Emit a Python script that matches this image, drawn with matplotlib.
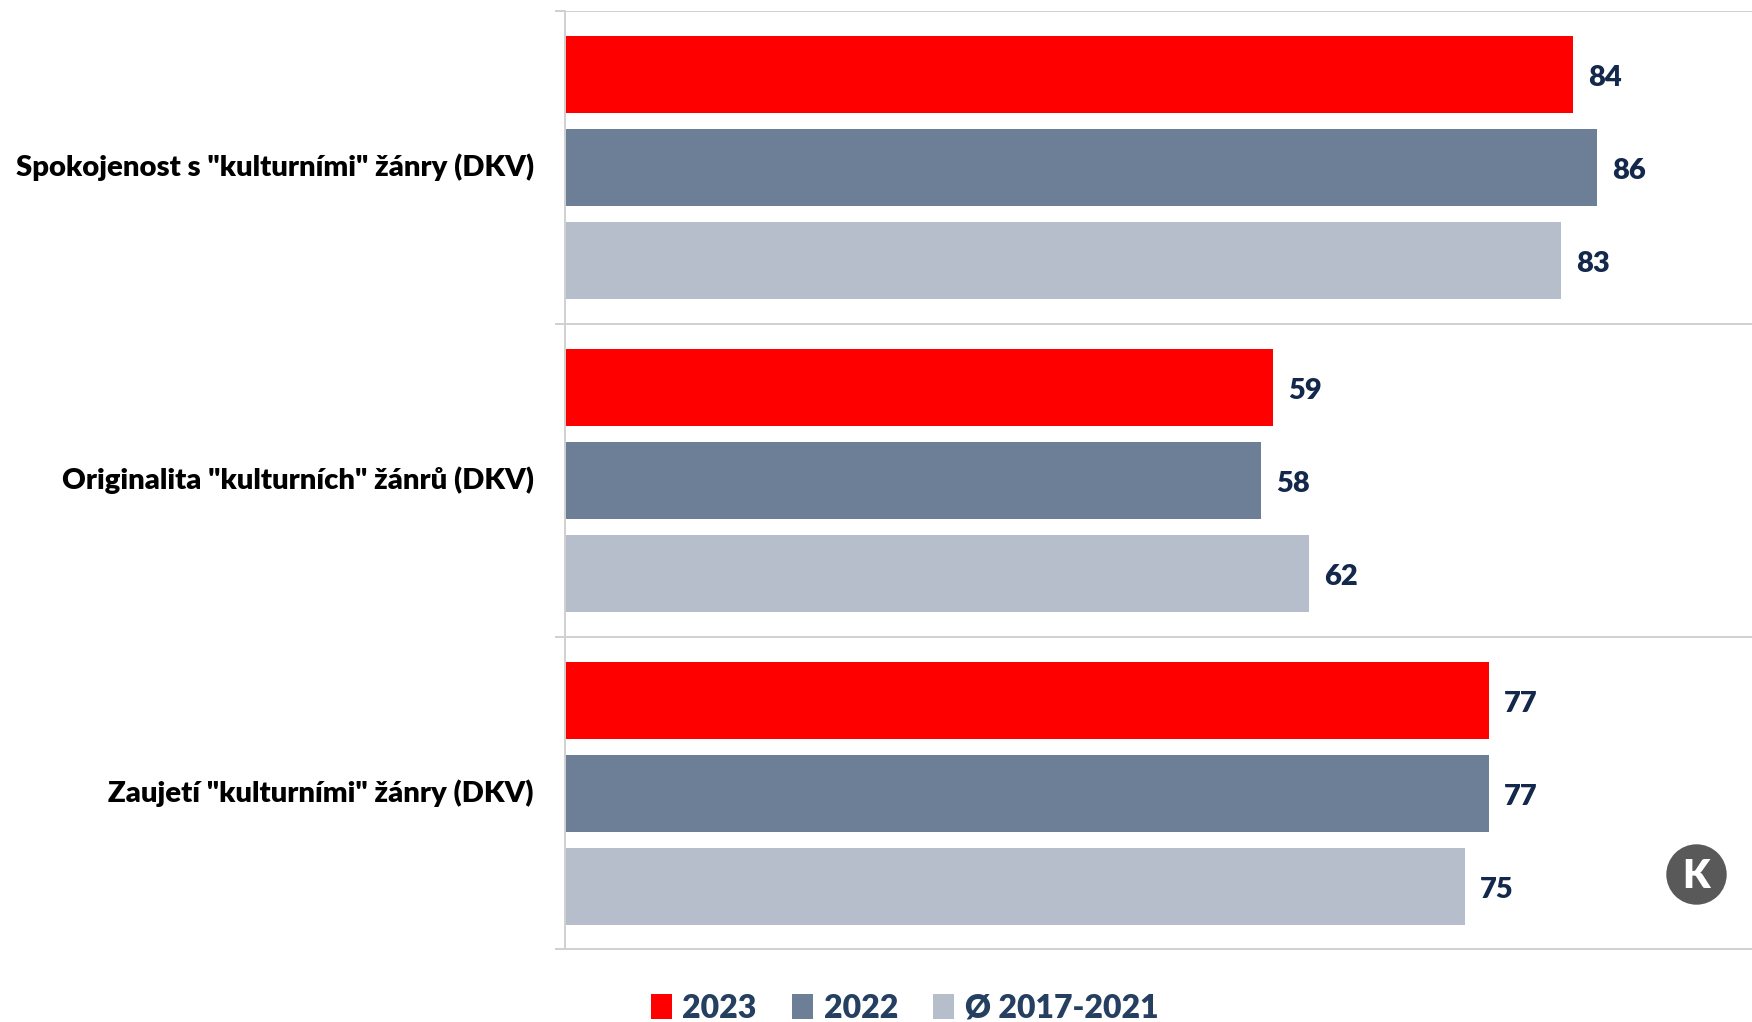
import numpy as np
import matplotlib
matplotlib.use('Agg')
import matplotlib.pyplot as plt
from matplotlib.transforms import ScaledTranslation

categories = ['Spokojenost s "kulturními" žánry (DKV)',
              'Originalita "kulturních" žánrů (DKV)',
              'Zaujetí "kulturními" žánry (DKV)']
v2023 = [84, 59, 77]
v2022 = [86, 58, 77]
avg = [83, 62, 75]
series_names = ['2023', '2022', 'Ø 2017-2021']
colors = ['#FF0000', '#6D7F97', '#B6BECB']

plt.rcParams['font.family'] = ['Lato', 'DejaVu Sans']
plt.rcParams['font.weight'] = 800

W, H = 1752, 1022
fig = plt.figure(figsize=(W/100, H/100), dpi=100)
ax = fig.add_axes([565/W, 1-949.5/H, (W-565)/W, 938/H])

grey = '#D0D0D0'
pos = np.arange(3) + .5
step = .2974
for i, (vals, c, name) in enumerate(zip([v2023, v2022, avg], colors, series_names)):
    bars = ax.barh(pos + (i-1)*step, vals, height=.246, color=c, label=name, zorder=3)
    for t in ax.bar_label(bars, padding=11, fontsize=21, color='#14284B'):
        t.xyann = (11, -2.5)

ax.set_xlim(0, (W-565)/12)
ax.set_ylim(3, 0)
ax.set_xticks([])
ax.set_yticks(pos, categories, fontsize=21.1, color='black')
ax.set_yticks(np.arange(4), minor=True)
ax.tick_params(axis='y', which='major', length=0, pad=22.5)
ax.tick_params(axis='y', which='minor', length=7.5, width=1.4, color=grey)
ax.grid(axis='y', which='minor', color=grey, lw=1.4, zorder=1)
for lab in ax.get_yticklabels():
    lab.set_transform(lab.get_transform() + ScaledTranslation(0, 2/72, fig.dpi_scale_trans))
for s in ['top', 'right', 'bottom']:
    ax.spines[s].set_visible(False)
ax.spines['left'].set_color(grey)
ax.spines['left'].set_linewidth(1.4)
ax.spines['left'].set_zorder(5)

leg = fig.legend(loc='lower left', bbox_to_anchor=(622/W, -0.029), ncol=3, frameon=False,
                 fontsize=23, handlelength=.66, handleheight=.83, handletextpad=.33,
                 columnspacing=1.1, labelcolor='#243F60')

# round "K" badge
fig.add_artist(plt.Line2D([1696/W], [1-873.5/H], marker='o', ms=43.5, color='#595959',
                          mec='none', transform=fig.transFigure))
fig.text(1696/W, 1-876/H, 'K', color='white', fontsize=28, ha='center', va='center')

fig.savefig('out.png', dpi=100)
